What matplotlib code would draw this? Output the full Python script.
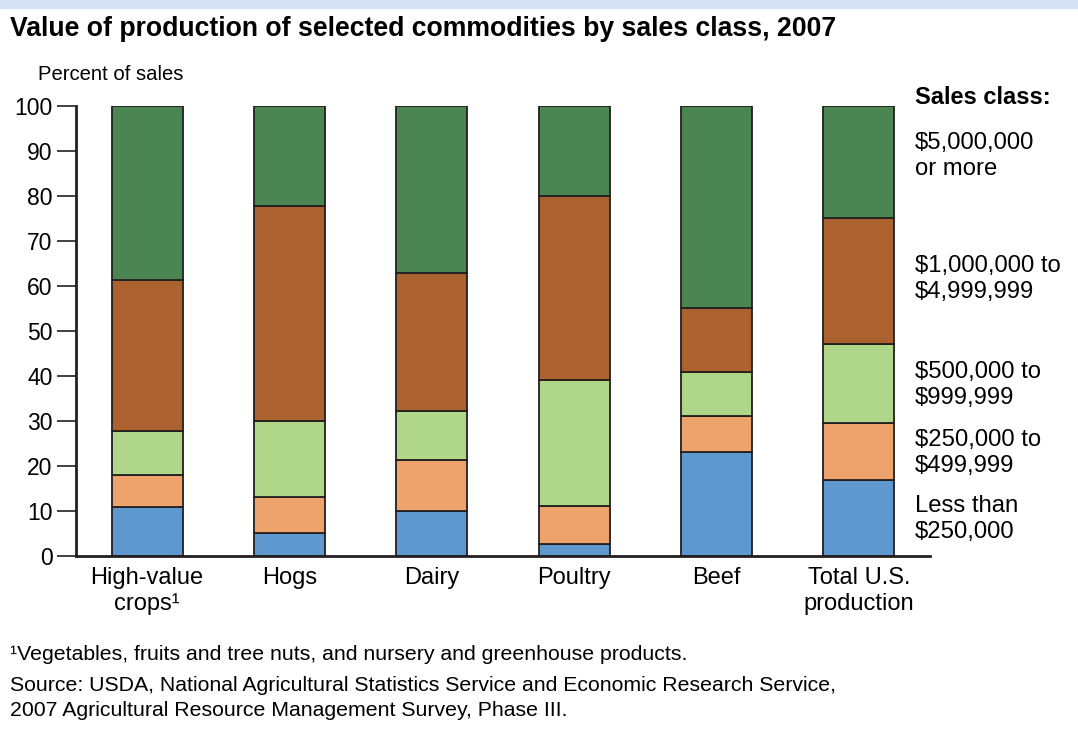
import numpy as np
import matplotlib.pyplot as plt
from matplotlib.patches import Rectangle

# data (percent of sales)
commodities = ["High-value\ncrops\u00b9", "Hogs", "Dairy", "Poultry", "Beef", "Total U.S.\nproduction"]
less_250k = [10.8, 5.0, 10.0, 2.6, 23.1, 16.8]
k250_499 = [7.2, 8.0, 11.3, 8.4, 8.0, 12.7]
k500_999 = [9.8, 16.9, 11.0, 28.0, 9.7, 17.5]
m1_4999 = [33.6, 47.8, 30.5, 40.9, 14.2, 28.1]
m5_plus = [38.6, 22.3, 37.2, 20.1, 45.0, 24.9]

series = [less_250k, k250_499, k500_999, m1_4999, m5_plus]
colors = ["#5f97cf", "#eea36d", "#b0d68a", "#ac622e", "#4a8552"]
labels = ["Less than\n$250,000", "$250,000 to\n$499,999", "$500,000 to\n$999,999",
          "$1,000,000 to\n$4,999,999", "$5,000,000\nor more"]
label_y = [519, 453, 385, 279, 156]  # pixel rows for legend text

plt.rcParams['font.family'] = ['Liberation Sans', 'DejaVu Sans']

W, H = 1078, 731
fig = plt.figure(figsize=(W / 100, H / 100), dpi=100)
ax = fig.add_axes([76 / W, 1 - 556 / H, (930 - 76) / W, (556 - 105.7) / H])

# light blue stripe at the top
fig.patches.append(Rectangle((0, 1 - 8 / H), 1, 8 / H, transform=fig.transFigure,
                             color="#d5e2f3", zorder=0))

x = np.arange(len(commodities))
bottom = np.zeros(len(commodities))
for vals, c in zip(series, colors):
    ax.bar(x, vals, 0.5, bottom=bottom, color=c, edgecolor="#231f20", linewidth=1.3, zorder=2)
    bottom += np.array(vals)

ax.set_xlim(-0.5, 5.5)
ax.set_ylim(0, 100)
ax.set_yticks(range(0, 101, 10))
ax.set_xticks(x)
ax.set_xticklabels(commodities, fontsize=17, linespacing=1.2)
ax.tick_params(axis='y', length=14, width=1.2, color="#231f20", labelsize=16.5, pad=3)
ax.tick_params(axis='x', length=0, pad=8)
for s in ["top", "right"]:
    ax.spines[s].set_visible(False)
ax.spines["left"].set_linewidth(2)
ax.spines["bottom"].set_linewidth(2)
ax.spines["left"].set_color("#231f20")
ax.spines["bottom"].set_color("#231f20")

fig.text(10 / W, 1 - 29 / H, "Value of production of selected commodities by sales class, 2007",
         fontsize=19.2, fontweight="bold", va="center", ha="left")
fig.text(38 / W, 1 - 75 / H, "Percent of sales", fontsize=14.6, va="center", ha="left")

fig.text(915 / W, 1 - 98 / H, "Sales class:", fontsize=17, fontweight="bold", va="center")
for lab, py in zip(labels, label_y):
    fig.text(915 / W, 1 - py / H, lab, fontsize=17.2, va="center", linespacing=1.25)

fig.text(10 / W, 1 - 655 / H, "\u00b9Vegetables, fruits and tree nuts, and nursery and greenhouse products.",
         fontsize=15.3, va="center")
fig.text(10 / W, 1 - 698 / H,
         "Source: USDA, National Agricultural Statistics Service and Economic Research Service,\n"
         "2007 Agricultural Resource Management Survey, Phase III.",
         fontsize=15.3, va="center", linespacing=1.36)

fig.savefig("out.png", dpi=100)
